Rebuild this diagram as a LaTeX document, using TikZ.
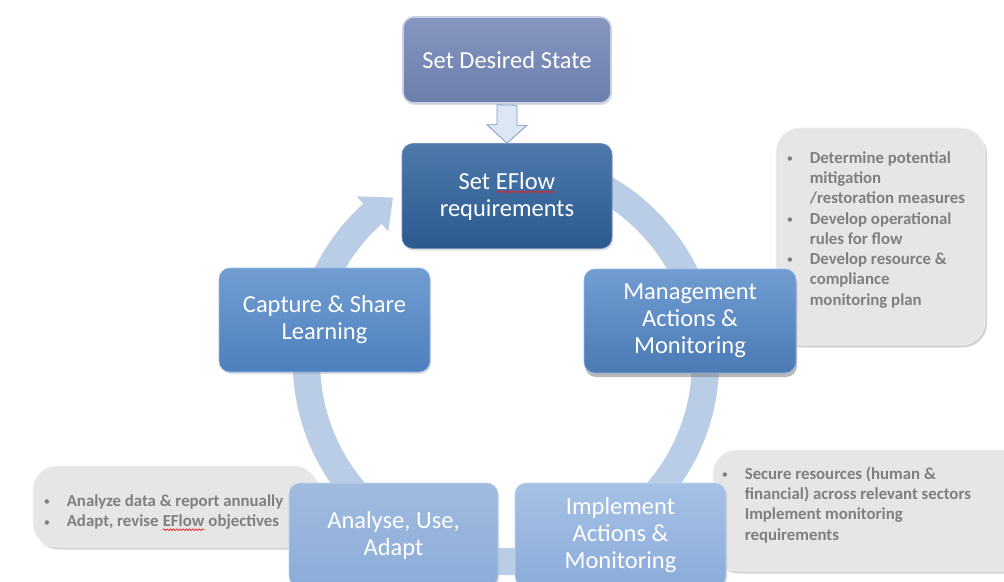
\documentclass[tikz,border=0pt]{standalone}
\usepackage{fontspec}
\setmainfont{Carlito}
\usetikzlibrary{calc,shadows,decorations.pathmorphing}

\definecolor{ringblue}{HTML}{B9CDE7}
\definecolor{notefill}{HTML}{E6E6E6}
\definecolor{notetext}{HTML}{7F7F7F}
\definecolor{arrowfill}{HTML}{DCE6F4}
\definecolor{arrowline}{HTML}{7F9CC8}
\definecolor{dsTop}{RGB}{134,150,192}
\definecolor{dsBot}{RGB}{108,126,172}
\definecolor{dsLine}{RGB}{200,208,228}
\definecolor{efTop}{RGB}{77,121,171}
\definecolor{efBot}{RGB}{44,90,143}
\definecolor{efLine}{RGB}{110,145,190}
\definecolor{midTop}{RGB}{113,157,210}
\definecolor{midBot}{RGB}{78,128,190}
\definecolor{midLine}{RGB}{150,185,225}
\definecolor{lowTop}{RGB}{166,193,229}
\definecolor{lowBot}{RGB}{139,172,218}
\definecolor{lowLine}{RGB}{195,213,238}
\definecolor{spellred}{RGB}{225,35,35}

% word with a red wavy spell-check underline
\newcommand\spellmark[2]{\tikz[baseline=(sw.base)]{%
  \node[inner sep=0pt, outer sep=0pt, minimum width=0pt, minimum height=0pt,
        text=#1] (sw) {#2};%
  \draw[spellred, line width=0.75pt, rounded corners=0pt, decorate,
        decoration={snake, amplitude=0.8pt, segment length=3.2pt}]
    ([yshift=-2.8pt]sw.base west) -- ([yshift=-2.8pt]sw.base east);}}
\newcommand\bul{\makebox[23pt][l]{\raisebox{0.8pt}{\fontsize{12.5}{12.5}\selectfont\mdseries•}}}
\newcommand\ind{\hspace*{23pt}}

\begin{document}
\begin{tikzpicture}[x=1pt,y=-1pt,
  stepbox/.style={rounded corners=11pt, inner sep=0pt, text=white, align=center,
    font=\fontsize{24.5}{27}\selectfont, minimum width=210pt, minimum height=104pt,
    line width=0.6pt},
  softshadow/.style={drop shadow={shadow xshift=1pt, shadow yshift=-2pt, opacity=0.25}},
  noteshape/.style={rounded corners=24pt, fill=notefill, draw=white!50!notefill,
    line width=0.8pt, drop shadow={shadow xshift=2pt, shadow yshift=-2.5pt, opacity=0.35}},
  notetxt/.style={anchor=north west, inner sep=0pt, align=left, text=notetext,
    font=\fontsize{16.8}{20.3}\selectfont\bfseries},
  ring/.style={ringblue}
]
\useasboundingbox (0,0) rectangle (1004,581);
\clip (0,0) rectangle (1004,581);

% grey note panels
\node[noteshape, minimum width=209pt, minimum height=217pt] (noteA) at (880.5,236.5) {};
\node[noteshape, minimum width=317pt, minimum height=121pt] (noteB) at (871.5,510.5) {};
\node[noteshape, minimum width=285pt, minimum height=81pt] (noteC) at (175.5,506.5) {};

\node[notetxt] (txtA) at ([shift={(11,23.5)}]noteA.north west) {%
  \bul Determine potential\\ \ind mitigation\\ \ind /restoration measures\\
  \bul Develop operational\\ \ind rules for flow\\
  \bul Develop resource \&\\ \ind compliance\\ \ind monitoring plan};
\node[notetxt] (txtB) at ([shift={(9,17)}]noteB.north west) {%
  \bul Secure resources (human \&\\ \ind financial) across relevant sectors\\
  \ind Implement monitoring\\ \ind requirements};
\node[notetxt] (txtC) at ([shift={(11,29)}]noteC.north west) {%
  \bul Analyze data \& report annually\\
  \bul Adapt, revise \spellmark{notetext}{EFlow} objectives};

% cycle ring with its arrow head
\coordinate (rc) at (506,362);
\draw[black, opacity=0.18, line width=27pt, xshift=-1pt, yshift=-1pt]
  ($(rc)+(-85:199.5)$) arc[start angle=-85, end angle=228, radius=199.5];
\draw[ring, line width=27pt]
  ($(rc)+(-85:199.5)$) arc[start angle=-85, end angle=228, radius=199.5];
\fill[ring] ($(rc)+(228:176)$) -- ($(rc)+(228:223)$) -- ($(rc)+(235.5:199.5)$) -- cycle;

% cycle steps
\node[stepbox, minimum width=208pt, minimum height=86pt, top color=dsTop, bottom color=dsBot,
  draw=dsLine, line width=1.6pt, softshadow] (ds) at (507,60) {Set Desired State};
\node[stepbox, top color=efTop, bottom color=efBot, draw=efLine,
  minimum height=105pt, softshadow] (ef) at (507,196) {Set \spellmark{white}{EFlow}\\requirements};
\node[stepbox, top color=midTop, bottom color=midBot, draw=midLine,
  minimum width=211pt, softshadow] (cap) at (324.5,320) {Capture \& Share\\Learning};
\node[stepbox, top color=midTop, bottom color=midBot!95!black, draw=midLine,
  minimum width=212pt,
  drop shadow={shadow xshift=1pt, shadow yshift=-4pt, opacity=0.55}] (mg) at (690,321)
  {Management\\Actions \&\\Monitoring};
\node[stepbox, top color=lowTop, bottom color=lowBot, draw=lowLine,
  minimum width=211pt, softshadow] (im) at (620.5,535) {Implement\\Actions \&\\Monitoring};
\node[stepbox, top color=lowTop!97!black, bottom color=lowBot, draw=lowLine,
  minimum width=209pt, softshadow] (an) at (393.5,535) {Analyse, Use,\\Adapt};

% block arrow from the desired state into the requirements step
\draw[fill=arrowfill, draw=arrowline, line width=0.8pt, line join=miter]
  (ds.south) ++(-10,1) -- ++(0,20) -- ++(-10,0) -- (ef.north) -- ++(20,-18)
  -- ++(-10,0) -- ++(0,-20) -- cycle;
\end{tikzpicture}
\end{document}
